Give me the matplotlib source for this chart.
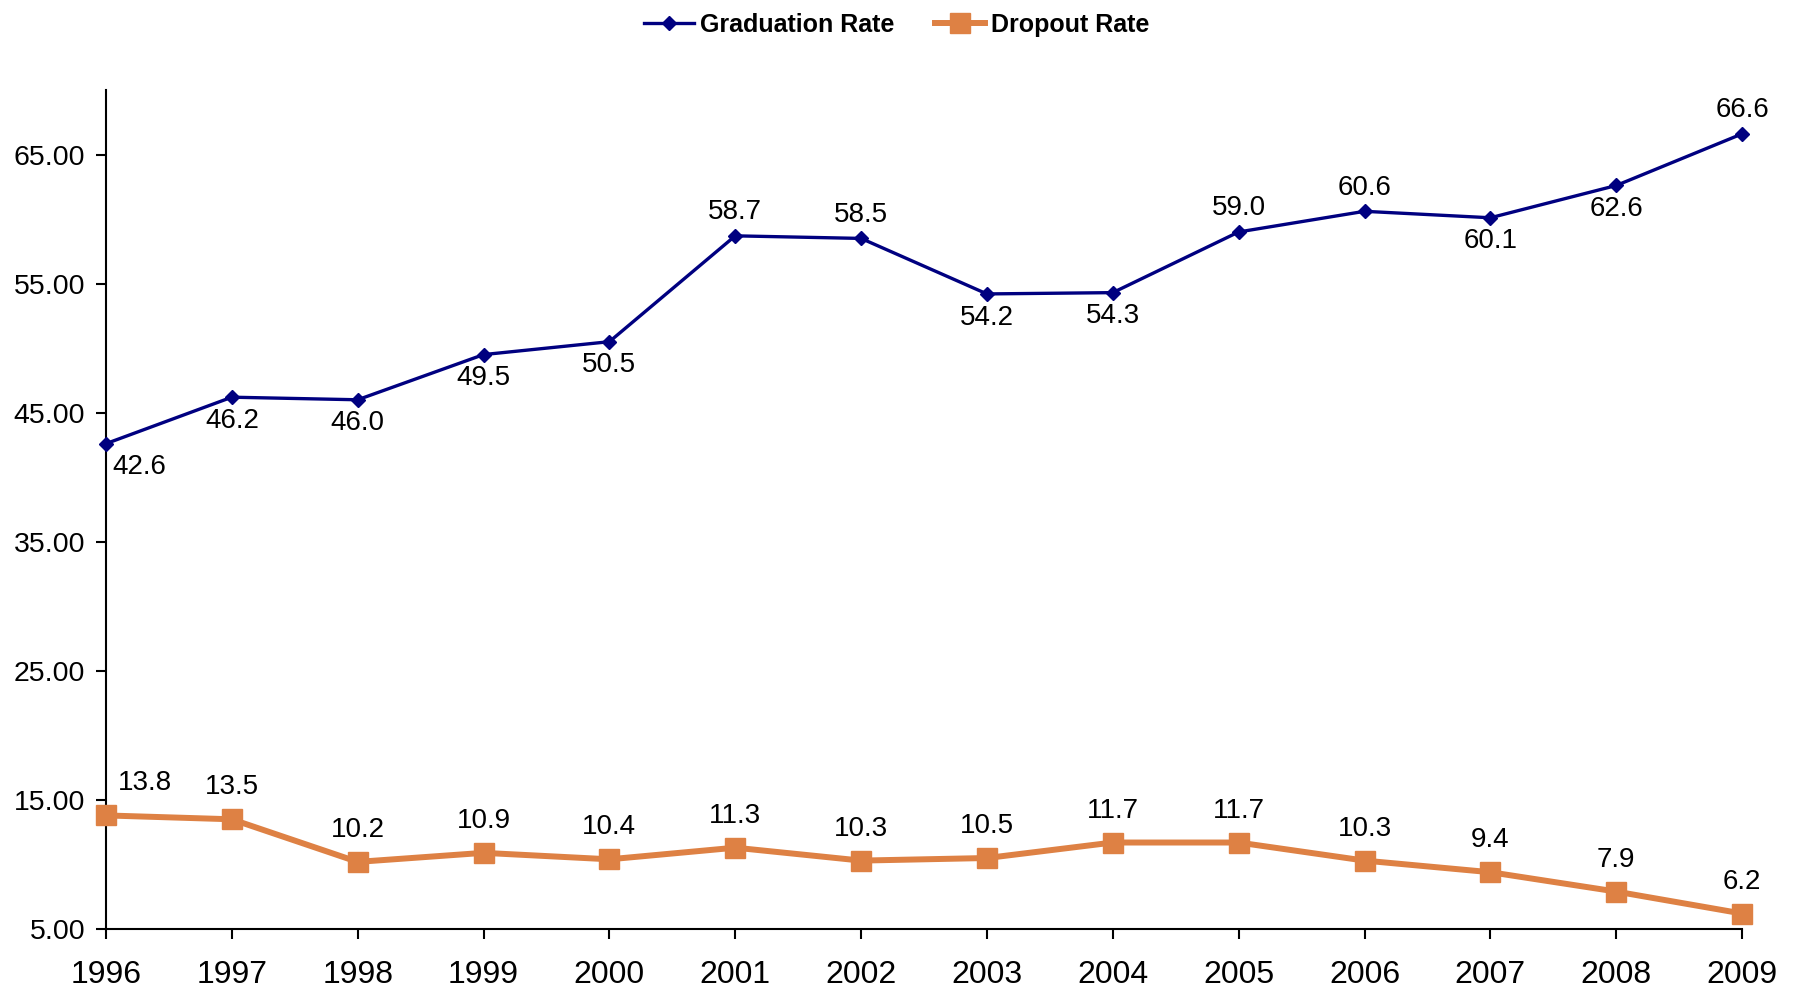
import matplotlib
matplotlib.use('Agg')
import matplotlib.pyplot as plt

years = [1996, 1997, 1998, 1999, 2000, 2001, 2002, 2003, 2004, 2005, 2006, 2007, 2008, 2009]
graduation = [42.6, 46.2, 46.0, 49.5, 50.5, 58.7, 58.5, 54.2, 54.3, 59.0, 60.6, 60.1, 62.6, 66.6]
dropout = [13.8, 13.5, 10.2, 10.9, 10.4, 11.3, 10.3, 10.5, 11.7, 11.7, 10.3, 9.4, 7.9, 6.2]
grad_side = ['below', 'below', 'below', 'below', 'below', 'above', 'above', 'below',
             'below', 'above', 'above', 'below', 'below', 'above']
yticks = [5, 15, 25, 35, 45, 55, 65]

plt.rcParams['font.family'] = ['Liberation Sans', 'DejaVu Sans']

fig = plt.figure(figsize=(17.93, 9.92), dpi=100)
ax = fig.add_axes([0.0591, 0.0635, 0.9125, 0.8458])

navy = '#000080'
orange = '#DE8144'

ax.plot(years, graduation, color=navy, lw=2.4, marker='D', ms=7,
        label='Graduation Rate', clip_on=False, zorder=3)
ax.plot(years, dropout, color=orange, lw=4.3, marker='s', ms=15,
        label='Dropout Rate', clip_on=False, zorder=3)

for i, (x, y) in enumerate(zip(years, graduation)):
    dx = 0
    if grad_side[i] == 'above':
        dy = 17
    else:
        dy = -17
    if i == 0:
        dx = 24
    ax.annotate(f'{y:.1f}', (x, y), xytext=(dx, dy), textcoords='offset points',
                ha='center', va='center', fontsize=20)

for i, (x, y) in enumerate(zip(years, dropout)):
    dx = 28 if i == 0 else 0
    ax.annotate(f'{y:.1f}', (x, y), xytext=(dx, 23), textcoords='offset points',
                ha='center', va='center', fontsize=20)

ax.set_xlim(1996, 2009)
ax.set_ylim(5, 70)
ax.set_xticks(years)
ax.set_xticklabels([str(y) for y in years], fontsize=23)
ax.set_yticks(yticks)
ax.set_yticklabels([f'{v:.2f}' for v in yticks], fontsize=20.5)
ax.tick_params(axis='x', direction='out', length=7, width=1.5, pad=15)
ax.tick_params(axis='y', direction='out', length=7, width=1.5, pad=8)
ax.spines['top'].set_visible(False)
ax.spines['right'].set_visible(False)
ax.spines['left'].set_linewidth(1.5)
ax.spines['bottom'].set_linewidth(1.5)

leg = fig.legend(loc='upper center', bbox_to_anchor=(0.5, 1.01), ncol=2, frameon=False,
                 prop={'size': 18, 'weight': 'bold'}, handlelength=2.0,
                 columnspacing=1.6, handletextpad=0.25)

fig.savefig('out.png', dpi=100)
